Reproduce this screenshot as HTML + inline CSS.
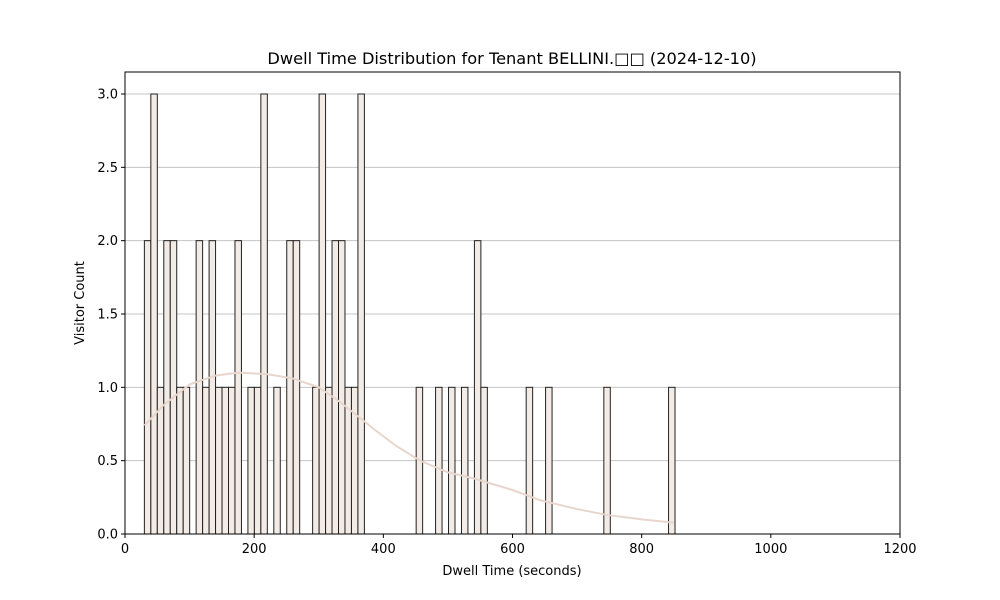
<!DOCTYPE html>
<html><head><meta charset="utf-8"><style>
body{margin:0;background:#fff}
svg{display:block;font-family:"DejaVu Sans","Liberation Sans",sans-serif}
</style></head><body>
<svg id="chart" width="1000" height="600" xmlns="http://www.w3.org/2000/svg">
<rect width="1000" height="600" fill="#fff"/>
<text x="512" y="64" text-anchor="middle" font-size="16.2">Dwell Time Distribution for Tenant BELLINI.□□ (2024-12-10)</text>
<g id="grid"></g><g id="bars"></g><g id="kde"></g><g id="axes"></g>
<text x="512" y="575" text-anchor="middle" font-size="13">Dwell Time (seconds)</text>
<text transform="translate(84,303) rotate(-90)" text-anchor="middle" font-size="13">Visitor Count</text>
</svg>
<script>
const binStart = 30;
const binWidth = 10.02;
const counts = [2,3,1,2,2,1,1,0,2,1,2,1,1,1,2,0,1,1,3,0,1,0,2,2,0,0,1,3,1,2,2,1,1,3,0,0,0,0,0,0,0,0,1,0,0,1,0,1,0,1,0,2,1,0,0,0,0,0,0,1,0,0,1,0,0,0,0,0,0,0,0,1,0,0,0,0,0,0,0,0,0,1];
const kdeX = [30,60,100,140,175,220,260,300,333,387,420,457,500,539,600,643,700,746,800,850];
const kdeY = [0.74,0.88,1.02,1.08,1.10,1.09,1.06,1.0,0.90,0.71,0.60,0.50,0.42,0.38,0.30,0.23,0.17,0.13,0.10,0.077];
const xTicks = [0,200,400,600,800,1000,1200];
const yTicks = [0,0.5,1,1.5,2,2.5,3];
const L=125,R=900,T=72,B=534;
const xs=v=>L+(v-0)/1200*(R-L);
const ys=v=>B-v/3*(B-94);
const NS="http://www.w3.org/2000/svg";
function mk(tag,attrs,parent){const e=document.createElementNS(NS,tag);for(const k in attrs)e.setAttribute(k,attrs[k]);parent.appendChild(e);return e;}
const grid=document.getElementById('grid'),bars=document.getElementById('bars'),kde=document.getElementById('kde'),axes=document.getElementById('axes');
yTicks.forEach(t=>{
  const g=mk('line',{x1:L,x2:R,y1:ys(t),y2:ys(t),stroke:'#c4c4c4','stroke-width':1},grid);
  
  
  const tk=mk('line',{x1:L-4,x2:L,y1:ys(t),y2:ys(t),stroke:'#000'},axes);
  
  
  const tx=mk('text',{x:L-7,y:ys(t)+4.5,'text-anchor':'end','font-size':13},axes);
  tx.textContent=t.toFixed(1);
  
  
});
xTicks.forEach(t=>{
  const tk=mk('line',{x1:xs(t),x2:xs(t),y1:B,y2:B+4,stroke:'#000'},axes);
  
  
  const tx=mk('text',{x:xs(t),y:B+19,'text-anchor':'middle','font-size':13},axes);
  tx.textContent=t;
  
  
});
counts.forEach((c,i)=>{
  if(c<=0)return;
  const x0=xs(binStart+i*binWidth),x1=xs(binStart+(i+1)*binWidth);
  const r=mk('rect',{x:x0,y:ys(c),width:x1-x0,height:B-ys(c),fill:'#f3ebe6',stroke:'#222','stroke-width':1},bars);
  
  
});
const p=mk('polyline',{points:kdeX.map((x,i)=>xs(x)+','+ys(kdeY[i])).join(' '),fill:'none',stroke:'#e8d6cc','stroke-width':2},kde);


const fr=mk('rect',{x:L,y:T,width:R-L,height:B-T,fill:'none',stroke:'#000','stroke-width':1},axes);


</script>
</body></html>
